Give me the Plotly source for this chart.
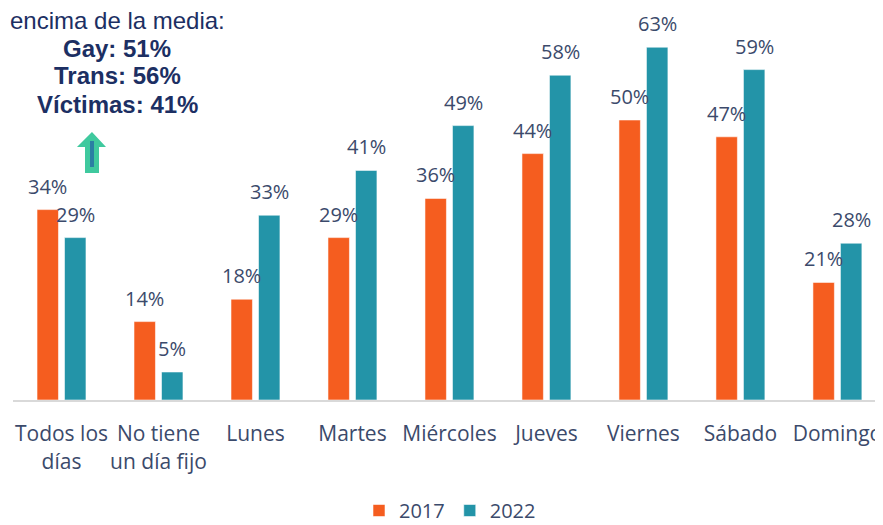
import plotly.graph_objects as go

categories = ["Todos los<br>días", "No tiene<br>un día fijo", "Lunes", "Martes", "Miércoles",
              "Jueves", "Viernes", "Sábado", "Domingo"]
values_2017 = [34, 14, 18, 29, 36, 44, 50, 47, 21]
values_2022 = [29, 5, 33, 41, 49, 58, 63, 59, 28]
series_names = ["2017", "2022"]
note_header = "encima de la media:"
note_lines = ["Gay: 51%", "Trans: 56%", "Víctimas: 41%"]

OFF = 8  # page body margin
W, H = 883 - OFF, 525 - OFF
ML, MR, MT, MB = 13 - OFF, 0, 0, 125
PW, PH = W - ML - MR, H - MT - MB

def px(x):  # page pixel -> paper
    return (x - OFF - ML) / PW

def py(y):
    return (H - MB - (y - OFF)) / PH

ORANGE = "#F55D1F"
TEAL = "#2394A8"
TXT = "#3B4A6B"
NAVY = "#1C2F63"

fig = go.Figure()
for name, vals, col in [(series_names[0], values_2017, ORANGE), (series_names[1], values_2022, TEAL)]:
    fig.add_trace(go.Bar(x=categories, y=vals, name=name,
                         marker=dict(color=col, line=dict(color="rgba(255,255,255,0.55)", width=1))))

xmax = 8.47
cat_w = PW / (xmax + 0.5)
bargap = 0.433
slot_half = cat_w * (1 - bargap) / 4
annos = []
for c, v1, v2 in zip(categories, values_2017, values_2022):
    for v, sh in [(v1, -slot_half), (v2, slot_half)]:
        annos.append(dict(x=c, y=v, xref="x", yref="y", text=f"{v}%", showarrow=False,
                          xshift=sh, yshift=8, yanchor="bottom",
                          font=dict(family="Open Sans", size=20, color=TXT)))

annos.append(dict(x=px(8), y=py(20), xref="paper", yref="paper", text=note_header, showarrow=False,
                  xanchor="left", yanchor="middle",
                  font=dict(family="Liberation Sans, Arial", size=24, color=NAVY)))
for i, t in enumerate(note_lines):
    annos.append(dict(x=px(117), y=py(48 + 28 * i), xref="paper", yref="paper", text=f"<b>{t}</b>",
                      showarrow=False, xanchor="center", yanchor="middle",
                      font=dict(family="Liberation Sans, Arial", size=24, color=NAVY)))

# arrow
pts = [(92, 132), (106, 147), (99, 147), (99, 173), (85, 173), (85, 147), (77, 147)]
path = "M " + " L ".join(f"{px(a):.5f},{py(b):.5f}" for a, b in pts) + " Z"
shapes = [
    dict(type="path", xref="paper", yref="paper", path=path, fillcolor="#3FC99E", line=dict(width=0)),
    dict(type="line", xref="paper", yref="paper", x0=px(92), x1=px(92), y0=py(141), y1=py(167),
         line=dict(color="#2A7FA3", width=4)),
]

fig.update_layout(
    width=W, height=H,
    margin=dict(l=ML, r=MR, t=MT, b=MB, autoexpand=False),
    paper_bgcolor="white", plot_bgcolor="white",
    barmode="group", bargap=bargap, bargroupgap=0.22,
    showlegend=True,
    legend=dict(orientation="h", x=px(450), xanchor="center", y=py(491), yanchor="top",
                borderwidth=0,
                font=dict(family="Open Sans", size=20, color=TXT)),
    annotations=annos, shapes=shapes,
    xaxis=dict(showline=True, linecolor="#D9D9D9", linewidth=2, ticks="", showgrid=False,
               range=[-0.5, xmax], ticklabelstandoff=14,
               tickfont=dict(family="Open Sans", size=21, color=TXT)),
    yaxis=dict(range=[0, 70], visible=False, showgrid=False, zeroline=False),
)

fig.write_html("out.html")
